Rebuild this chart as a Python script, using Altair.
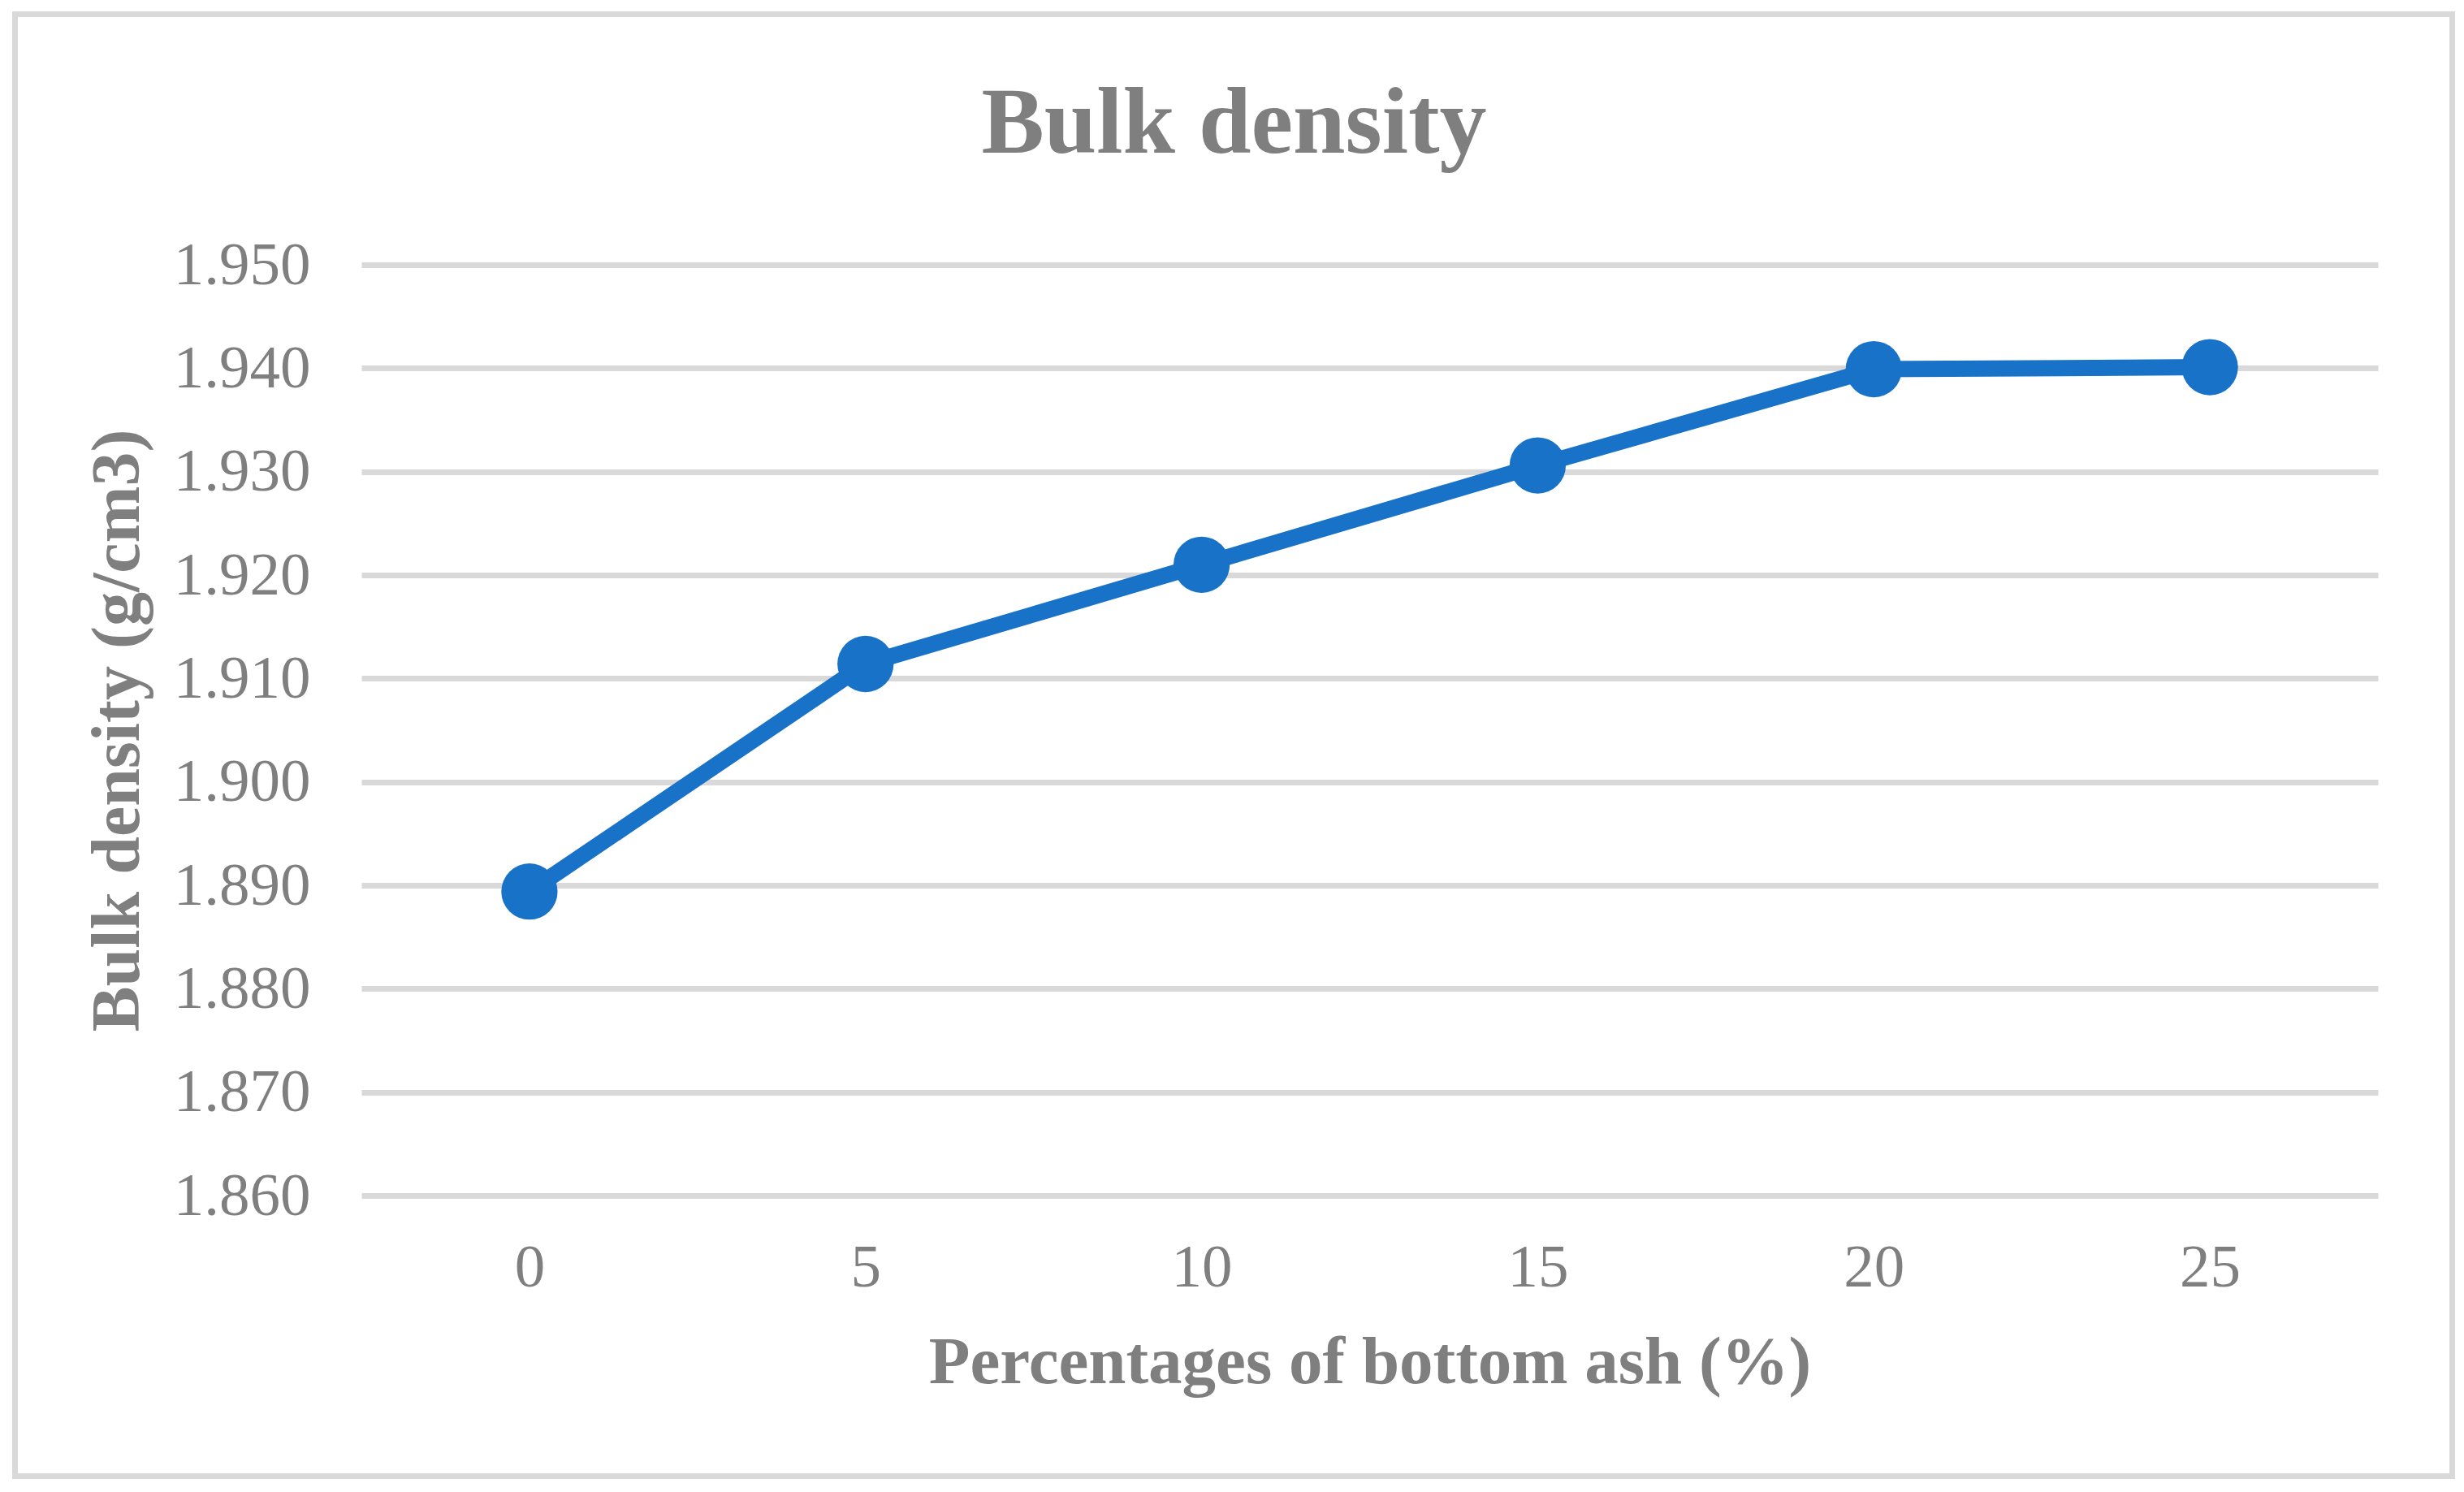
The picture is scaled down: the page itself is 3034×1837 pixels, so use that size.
import altair as alt
import pandas as pd

categories = ["0", "5", "10", "15", "20", "25"]
density = [1.8894, 1.9114, 1.9210, 1.9306, 1.9399, 1.9401]
y_ticks = [1.86, 1.87, 1.88, 1.89, 1.90, 1.91, 1.92, 1.93, 1.94, 1.95]

df = pd.DataFrame({"pct": categories, "density": density})

GREY = "#7f7f7f"
BLUE = "#1872c8"
FONT = "Liberation Serif"

x_enc = alt.X(
    "pct:O",
    sort=categories,
    scale=alt.Scale(type="point", padding=0.5),
    axis=alt.Axis(
        title="Percentages of bottom ash (%)",
        labelAngle=0,
        labelFont=FONT,
        labelFontSize=75,
        labelColor=GREY,
        labelBaseline="alphabetic",
        labelPadding=111,
        ticks=False,
        tickSize=0,
        domain=False,
        grid=False,
        titleFont=FONT,
        titleFontSize=83,
        titleFontWeight="bold",
        titleColor=GREY,
        titleBaseline="alphabetic",
        titleY=230,
    ),
)
y_enc = alt.Y(
    "density:Q",
    scale=alt.Scale(domain=[1.86, 1.95], nice=False, zero=False),
    axis=alt.Axis(
        title="Bulk density (g/cm3)",
        values=y_ticks,
        format=".3f",
        labelFont=FONT,
        labelFontSize=75,
        labelColor=GREY,
        labelPadding=63,
        ticks=False,
        tickSize=0,
        domain=False,
        grid=True,
        gridColor="#d9d9d9",
        gridWidth=7,
        titleFont=FONT,
        titleFontSize=84,
        titleFontWeight="bold",
        titleColor=GREY,
        titleBaseline="alphabetic",
        titleX=-275,
    ),
)

border = alt.Chart(pd.DataFrame({"a": [0]})).mark_rect(
    fillOpacity=0, stroke="#d9d9d9", strokeWidth=7
).encode(
    x=alt.value(-426.5), x2=alt.value(2574.5),
    y=alt.value(-308.5), y2=alt.value(1491.5),
)

line = alt.Chart(df).mark_line(color=BLUE, strokeWidth=20).encode(x=x_enc, y=y_enc)
points = alt.Chart(df).mark_circle(color=BLUE, size=4800, opacity=1).encode(x=x_enc, y=y_enc)

chart = alt.layer(border, line, points).properties(
    width=2483,
    height=1146,
    title=alt.TitleParams(
        text="Bulk density",
        font=FONT,
        fontSize=116,
        fontWeight="bold",
        color=GREY,
        anchor="middle",
        frame="group",
        baseline="alphabetic",
        dx=-167,
        offset=-290,
    ),
    autosize=alt.AutoSizeParams(type="none"),
    padding={"left": 437, "top": 318, "right": 98, "bottom": 351},
).configure(
    background="white",
    view=alt.ViewConfig(stroke="transparent", strokeWidth=0),
)

chart.save("out.html", embed_options={"renderer": "svg", "actions": False})
